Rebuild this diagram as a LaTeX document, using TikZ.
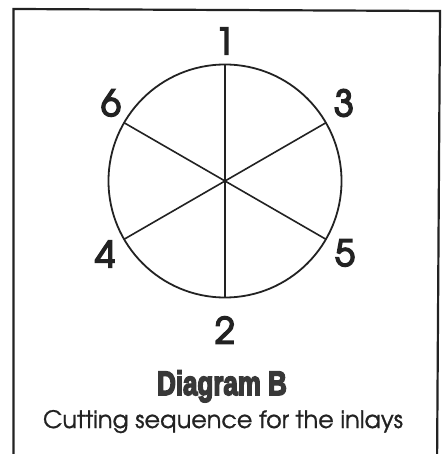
\documentclass[tikz,border=0pt]{standalone}
\usepackage{fontspec}
\setmainfont{texgyreadventor-regular.otf}[FakeBold=1]
\newfontfamily\digitfont{texgyreadventor-regular.otf}[FakeBold=4.5]
\newfontfamily\headfont{Liberation Sans Bold}[FakeBold=5]
\definecolor{ink}{HTML}{222222}
\definecolor{headink}{HTML}{383838}
\begin{document}
\begin{tikzpicture}[x=1bp,y=-1bp,
  lbl/.style={inner sep=0pt, font=\digitfont\fontsize{36}{36}\selectfont, text=ink},
  ring/.style={circle, draw=ink, line width=1.8bp, minimum size=233bp, inner sep=0pt, outer sep=0pt},
  spoke/.style={draw=ink, line width=1.6bp},
  frame/.style={draw=ink, line width=2.2bp}]
\useasboundingbox (0,0) rectangle (445,454);
\fill[white] (0,0) rectangle (445,454);
\draw[frame] (13.5,470) -- (13.5,9) -- (440,11) -- (437,470);
\node[ring] (c) at (225,181) {};
\draw[spoke] (c.90) -- (c.270);
\draw[spoke] (c.30) -- (c.210);
\draw[spoke] (c.150) -- (c.330);
\node[lbl] (n1) at (225,41) {1};
\node[lbl] (n6) at (111,103) {6};
\node[lbl] (n3) at (344,103) {3};
\node[lbl] (n4) at (105,254) {4};
\node[lbl] (n5) at (345,253) {5};
\node[lbl] (n2) at (225,330) {2};
\node[inner sep=0pt, anchor=base, text=headink] (title) at (222,395)
  {\scalebox{0.84}[1.1]{\headfont\fontsize{31}{31}\selectfont Diagram B}};
\node[inner sep=0pt, anchor=base, text=ink, font=\fontsize{24}{24}\selectfont] (sub) at (223,428)
  {Cutting sequence for the inlays};
\end{tikzpicture}
\end{document}
